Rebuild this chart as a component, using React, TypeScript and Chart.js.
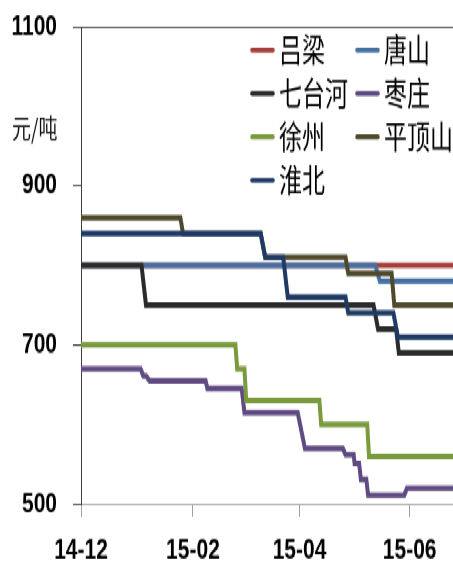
import React, { useEffect, useRef } from "react";
import { Chart, registerables } from "chart.js";

Chart.register(...registerables);

// Each point: [days since 2014-12-01, price in 元/吨]
type Pt = [number, number];

const seriesNames = ["吕梁", "唐山", "七台河", "枣庄", "徐州", "平顶山", "淮北"];
const seriesColors = ["#A53F3C", "#4470A3", "#2B2B2B", "#5F4B82", "#7A9A3E", "#4F4A2C", "#1F3B64"];

const luliang: Pt[] = [[0, 800], [206, 800]];
const tangshan: Pt[] = [[0, 800], [163, 800], [165.5, 780], [206, 780]];
const qitaihe: Pt[] = [[0, 800], [33.5, 800], [36, 750], [162, 750], [164.5, 720], [174.5, 720], [176, 690], [206, 690]];
const zaozhuang: Pt[] = [
  [0, 670], [33, 670], [34.5, 661], [36, 661], [38, 655], [69, 655], [70, 645], [89, 645],
  [90.5, 615], [120, 615], [124, 570], [145, 570], [146.5, 562], [151, 562], [151.5, 551],
  [154, 551], [155, 531], [158, 531], [159, 511], [179, 511], [180.5, 520], [206, 520],
];
const xuzhou: Pt[] = [
  [0, 700], [85.5, 700], [86.5, 670], [90.5, 670], [91.5, 630], [132, 630], [133, 600],
  [158.5, 600], [159.5, 560], [206, 560],
];
const pingdingshan: Pt[] = [
  [0, 860], [55, 860], [56.5, 840], [99.5, 840], [102, 810], [146.5, 810], [148, 790],
  [172, 790], [173.5, 750], [206, 750],
];
const huaibei: Pt[] = [
  [0, 840], [99.5, 840], [102, 810], [112, 810], [114.5, 760], [146.5, 760], [148, 740],
  [173, 740], [175.5, 710], [206, 710],
];

const seriesData: Pt[][] = [luliang, tangshan, qitaihe, zaozhuang, xuzhou, pingdingshan, huaibei];

const xTickDays = [0, 62, 121, 182];
const xTickLabels = ["14-12", "15-02", "15-04", "15-06"];
const xMaxDay = 206;
const yTicks = [500, 700, 900, 1100];
const yUnit = "元/吨";

// Legend grid: two columns, filled row by row
const legendCols = [250, 355];
const legendRowTop = 35.7;
const legendRowGap = 31;

const W = 453;
const H = 406;
const STRETCH = 1.4;

const legendPlugin = {
  id: "cokeLegend",
  afterDraw(chart: Chart) {
    const ctx = chart.ctx;
    ctx.save();
    ctx.textBaseline = "middle";
    ctx.textAlign = "left";
    ctx.fillStyle = "#111";
    ctx.font = '19px "Noto Sans CJK SC", sans-serif';
    ctx.fillText(yUnit, 12, 91.5);

    ctx.font = '23px "Noto Sans CJK SC", sans-serif';
    seriesNames.forEach((name, i) => {
      const col = i % 2;
      const row = Math.floor(i / 2);
      const x0 = legendCols[col];
      const y = legendRowTop + row * legendRowGap;
      ctx.strokeStyle = seriesColors[i];
      ctx.lineWidth = 3.6;
      ctx.lineCap = "round";
      ctx.beginPath();
      ctx.moveTo(x0 + 2, y);
      ctx.lineTo(x0 + 23, y);
      ctx.stroke();
      ctx.fillStyle = "#000";
      ctx.fillText(name, x0 + 29, y);
    });
    ctx.restore();
  },
};

export default function App() {
  const canvasRef = useRef<HTMLCanvasElement | null>(null);

  useEffect(() => {
    const canvas = canvasRef.current;
    if (!canvas) return;
    const n = seriesData.length;
    const tickFont = { family: '"Liberation Sans", Arial, sans-serif', size: 21, weight: "bold" as const };

    const chart = new Chart(canvas, {
      type: "line",
      data: {
        datasets: seriesData.map((pts, i) => ({
          label: seriesNames[i],
          data: pts.map(([x, y]) => ({ x, y })),
          borderColor: seriesColors[i],
          backgroundColor: seriesColors[i],
          borderWidth: 4,
          pointRadius: 0,
          tension: 0,
          fill: false,
          order: n - 1 - i,
        })),
      },
      options: {
        animation: false,
        responsive: false,
        devicePixelRatio: 1,
        layout: { padding: { top: 19, right: 0, bottom: 0, left: 0 } },
        plugins: {
          legend: { display: false },
          tooltip: { enabled: false },
        },
        scales: {
          x: {
            type: "linear",
            min: 0,
            max: xMaxDay,
            afterBuildTicks: (axis: any) => {
              axis.ticks = xTickDays.map((v) => ({ value: v }));
            },
            afterFit: (axis: any) => {
              axis.height = 46;
              axis.paddingLeft = 0;
              axis.paddingRight = 0;
            },
            ticks: {
              autoSkip: false,
              maxRotation: 0,
              padding: 12,
              color: "#000",
              font: tickFont,
              callback: (v: any) => {
                const idx = xTickDays.indexOf(Number(v));
                return idx >= 0 ? xTickLabels[idx] : "";
              },
            },
            grid: {
              drawOnChartArea: false,
              drawTicks: true,
              tickLength: 9,
              color: "#A0A0A0",
              lineWidth: 1,
            },
            border: { color: "#A0A0A0", width: 1 },
          },
          y: {
            type: "linear",
            min: 500,
            max: 1100,
            afterBuildTicks: (axis: any) => {
              axis.ticks = yTicks.map((v) => ({ value: v }));
            },
            afterFit: (axis: any) => {
              axis.width = 81;
              axis.paddingTop = 0;
              axis.paddingBottom = 0;
            },
            ticks: {
              padding: 16,
              color: "#000",
              font: tickFont,
              callback: (v: any) => String(v),
            },
            grid: {
              drawOnChartArea: true,
              tickLength: 8,
              tickColor: "#404040",
              color: (c: any) => (c.tick && c.tick.value === 1100 ? "#404040" : "rgba(0,0,0,0)"),
              lineWidth: 1,
            },
            border: { color: "#404040", width: 1 },
          },
        },
      },
      plugins: [legendPlugin],
    });

    return () => chart.destroy();
  }, []);

  return (
    <div
      style={{
        position: "fixed",
        left: 0,
        top: 0,
        width: W,
        height: H,
        background: "#fff",
        transform: `scaleY(${STRETCH})`,
        transformOrigin: "0 0",
      }}
    >
      <canvas ref={canvasRef} width={W} height={H} style={{ display: "block", width: W, height: H }} />
    </div>
  );
}
